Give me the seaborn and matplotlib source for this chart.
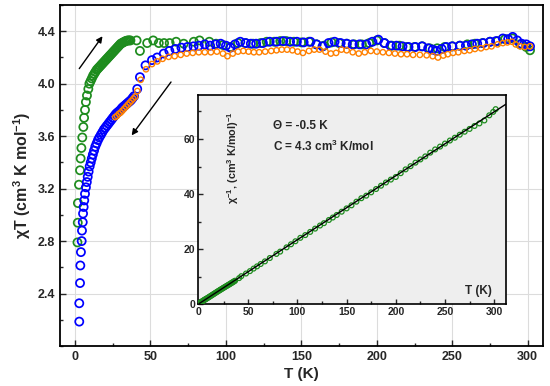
import numpy as np
import matplotlib
matplotlib.use("Agg")
import matplotlib.pyplot as plt
import seaborn as sns
from matplotlib.ticker import MultipleLocator

# --- Data: chi*T (cm3 K/mol) vs T (K) ---
green_T = [1.6, 1.8, 1.9, 2.6, 3.3, 3.7, 4.2, 4.8, 5.5, 6.0, 6.6, 7.2, 7.9, 8.8,
           9.5, 10.3, 11.1, 11.9, 12.7, 13.5, 14.3, 15.1, 15.9, 16.7, 17.5, 18.3,
           19.1, 19.9, 20.7, 21.5, 22.3, 23.1, 23.9, 24.7, 25.5, 26.3, 27.1, 27.9,
           28.7, 29.5, 30.3, 31.1, 31.9, 32.7, 33.5, 34.3, 35.1, 35.9, 36.7, 40.8,
           43, 47.8, 51.8, 55.5, 59, 62.7, 67, 72, 78.7, 82.5, 89, 93.5,
           98, 103, 108, 113, 118, 123, 127, 132, 136, 140, 145, 150, 155, 160,
           165, 170, 175, 180, 185, 190, 195, 200, 205, 210, 215, 220, 225, 230,
           235, 240, 245, 250, 255, 260, 265, 270, 275, 280, 285, 290, 295, 299, 301.5]
green_chiT = [2.79, 2.94, 3.09, 3.23, 3.34, 3.43, 3.51, 3.59, 3.67, 3.74, 3.80, 3.86, 3.91, 3.96,
              4.00, 4.02, 4.04, 4.06, 4.075, 4.09, 4.105, 4.115, 4.125, 4.135, 4.145, 4.155,
              4.165, 4.175, 4.185, 4.195, 4.205, 4.215, 4.225, 4.235, 4.245, 4.255, 4.265, 4.275,
              4.285, 4.295, 4.305, 4.31, 4.315, 4.32, 4.325, 4.328, 4.33, 4.33, 4.33, 4.33,
              4.25, 4.31, 4.33, 4.31, 4.31, 4.31, 4.32, 4.305, 4.32, 4.33, 4.32, 4.305,
              4.295, 4.28, 4.31, 4.31, 4.305, 4.31, 4.32, 4.32, 4.325, 4.325, 4.32, 4.315, 4.32, 4.30,
              4.29, 4.315, 4.31, 4.305, 4.30, 4.30, 4.31, 4.33, 4.31, 4.29, 4.29, 4.28, 4.28, 4.285,
              4.27, 4.27, 4.28, 4.285, 4.29, 4.30, 4.305, 4.31, 4.32, 4.325, 4.34, 4.345, 4.30, 4.28, 4.255]

blue_T = [2.8, 2.8, 3.3, 3.5, 3.9, 4.4, 4.6, 5.1, 5.3, 5.7, 6.1, 6.6, 7.2, 7.8, 8.4, 9.0,
          9.7, 10.4, 11.1, 11.8, 12.6, 13.4, 14.3, 15.2, 16.1, 17.1, 18.1, 19.1, 20.1,
          21.1, 22.1, 23.1, 24.1, 25.1, 26.1, 27.1, 28.1, 29.1, 30.1, 31.1, 32.1, 33.1,
          34.1, 35.1, 36.1, 37.1, 38.1, 39.1, 41.2, 43, 46.7, 51, 54.4, 58.8, 62.5, 66.5,
          70.5, 74.5, 78.5, 82, 86, 89.5, 93, 96.5, 100, 103, 106, 109.5, 113, 116.5, 120,
          124.5, 129, 133.5, 138, 142.5, 147, 151.5, 156, 160, 164, 168, 172, 176, 180,
          184, 188.5, 193, 197, 201, 205, 209, 213, 217, 221, 225.5, 230, 234, 237, 239.5,
          243, 246, 250, 255, 259, 263, 266.5, 270.5, 275, 279, 283.5, 287, 290, 293, 296,
          299, 301.5]
blue_chiT = [2.186, 2.326, 2.48, 2.614, 2.716, 2.80, 2.88, 2.944, 3.01, 3.06, 3.11, 3.16, 3.21,
             3.25, 3.29, 3.33, 3.37, 3.40, 3.43, 3.46, 3.49, 3.52, 3.545, 3.57, 3.59, 3.61,
             3.63, 3.65, 3.665, 3.68, 3.695, 3.71, 3.725, 3.74, 3.755, 3.77, 3.78, 3.79, 3.80,
             3.815, 3.825, 3.835, 3.845, 3.855, 3.865, 3.875, 3.89, 3.905, 3.96, 4.05, 4.14,
             4.18, 4.20, 4.23, 4.25, 4.265, 4.275, 4.28, 4.285, 4.29, 4.30, 4.29, 4.30, 4.305,
             4.29, 4.275, 4.30, 4.32, 4.31, 4.305, 4.305, 4.31, 4.32, 4.32, 4.325, 4.32, 4.32,
             4.315, 4.32, 4.30, 4.285, 4.31, 4.32, 4.31, 4.305, 4.30, 4.30, 4.30, 4.32, 4.336,
             4.31, 4.29, 4.29, 4.285, 4.28, 4.28, 4.285, 4.27, 4.26, 4.25, 4.265, 4.28, 4.285,
             4.29, 4.29, 4.30, 4.305, 4.31, 4.32, 4.325, 4.345, 4.34, 4.357, 4.33, 4.305,
             4.30, 4.285]

orange_T = [26.6, 27.8, 29, 30.2, 31.4, 32.6, 33.8, 35, 36.2, 37.4, 38.6, 39.8, 41.3, 43.5,
            47, 51, 54.5, 58, 62, 66, 70, 74, 78, 82, 86, 90, 94, 98, 101, 104.5, 108, 111.5,
            115, 118.5, 122, 126, 130, 133.5, 137, 140.5, 144, 147.5, 151, 155, 158.5, 162,
            166, 169.5, 173, 176.5, 180, 184, 188, 192, 196, 200, 204, 208, 212, 216, 220,
            224, 228.5, 233, 237, 240.5, 244, 247, 250.5, 254, 258, 261.5, 265, 269, 272.5,
            276, 280, 283.5, 286.5, 289.5, 292, 295, 298, 301.5]
orange_chiT = [3.745, 3.755, 3.77, 3.78, 3.795, 3.81, 3.825, 3.84, 3.855, 3.87, 3.885, 3.90,
               3.944, 4.03, 4.11, 4.15, 4.17, 4.19, 4.205, 4.21, 4.22, 4.23, 4.235, 4.24, 4.24,
               4.24, 4.245, 4.23, 4.21, 4.23, 4.245, 4.25, 4.245, 4.24, 4.24, 4.245, 4.25,
               4.255, 4.26, 4.26, 4.255, 4.245, 4.235, 4.25, 4.26, 4.26, 4.245, 4.23, 4.235,
               4.26, 4.255, 4.24, 4.23, 4.24, 4.25, 4.245, 4.24, 4.235, 4.23, 4.225, 4.225,
               4.22, 4.22, 4.217, 4.21, 4.20, 4.215, 4.225, 4.235, 4.24, 4.25, 4.255, 4.265,
               4.27, 4.28, 4.285, 4.30, 4.31, 4.315, 4.32, 4.30, 4.285, 4.28, 4.285]

# Curie-Weiss fit parameters shown in the inset
theta = -0.5
curie_C = 4.3

GREEN = "#1e8c1e"
BLUE = "#0000ff"
ORANGE = "#ff8000"

sns.set_style("ticks")
plt.rcParams["font.family"] = ["Liberation Sans", "DejaVu Sans"]
plt.rcParams["font.weight"] = "bold"
plt.rcParams["mathtext.fontset"] = "custom"
plt.rcParams["mathtext.rm"] = "Liberation Sans:bold"
plt.rcParams["mathtext.it"] = "Liberation Sans:bold"
plt.rcParams["mathtext.bf"] = "Liberation Sans:bold"

fig = plt.figure(figsize=(5.5, 3.86), dpi=100)
ax = fig.add_axes([0.109, 0.1036, 0.878, 0.8834])

# --- Main panel ---
sns.scatterplot(x=green_T, y=green_chiT, ax=ax, marker="o", s=34, facecolor="none",
                edgecolor=GREEN, linewidth=1.25, zorder=3)
sns.scatterplot(x=blue_T, y=blue_chiT, ax=ax, marker="o", s=34, facecolor="none",
                edgecolor=BLUE, linewidth=1.25, zorder=4)
sns.scatterplot(x=orange_T, y=orange_chiT, ax=ax, marker="o", s=15, facecolor="none",
                edgecolor=ORANGE, linewidth=1.0, zorder=5)

ax.set_xlim(-10, 310)
ax.set_ylim(2.0, 4.6)
ax.xaxis.set_major_locator(MultipleLocator(50))
ax.xaxis.set_minor_locator(MultipleLocator(25))
ax.set_yticks([2.4, 2.8, 3.2, 3.6, 4.0, 4.4])
ax.yaxis.set_minor_locator(MultipleLocator(0.2))
ax.yaxis.set_major_formatter(matplotlib.ticker.FormatStrFormatter("%.1f"))
ax.tick_params(which="both", direction="in", width=1.0, labelsize=9)
ax.tick_params(which="major", length=4)
ax.tick_params(which="minor", length=2.5)
ax.grid(True, which="major", color="#dcdcdc", linewidth=0.8)
ax.set_axisbelow(True)
for sp in ax.spines.values():
    sp.set_linewidth(1.3)
    sp.set_color("black")

ax.set_xlabel("T (K)", fontsize=11, fontweight="bold", labelpad=3)
ax.set_ylabel(r"χT (cm$^{3}$ K mol$^{-1}$)", fontsize=11.5, fontweight="bold", labelpad=3)

# arrows: heating (up) and cooling (down)
arrow_kw = dict(arrowstyle="-|>", color="black", lw=1.0, mutation_scale=9,
                shrinkA=0, shrinkB=0)
ax.annotate("", xy=(18.2, 4.362), xytext=(2.8, 4.115), arrowprops=arrow_kw, zorder=6)
ax.annotate("", xy=(37.5, 3.606), xytext=(63.6, 4.013), arrowprops=arrow_kw, zorder=6)

# --- Inset: inverse susceptibility ---
ins = fig.add_axes([0.36, 0.2124, 0.56, 0.5415])
ins.set_facecolor("#eeeeee")
inv_chi = np.array(green_T) / np.array(green_chiT)
sns.scatterplot(x=green_T, y=inv_chi, ax=ins, marker="o", s=12, facecolor="none",
                edgecolor=GREEN, linewidth=0.9, zorder=3)
fit_T = np.array([0.0, 312.0])
ins.plot(fit_T, (fit_T - theta) / curie_C, color="black", lw=1.0, zorder=4)

ins.set_xlim(-1, 312)
ins.set_ylim(0, 76)
ins.xaxis.set_major_locator(MultipleLocator(50))
ins.xaxis.set_minor_locator(MultipleLocator(25))
ins.yaxis.set_major_locator(MultipleLocator(20))
ins.yaxis.set_minor_locator(MultipleLocator(10))
ins.tick_params(which="both", direction="in", width=1.0, labelsize=7.5, pad=2)
ins.tick_params(which="major", length=3.5)
ins.tick_params(which="minor", length=2)
for sp in ins.spines.values():
    sp.set_linewidth(1.2)
    sp.set_color("black")

ins.text(0.114, 0.70, r"χ$^{-1}$, (cm$^{3}$ K/mol)$^{-1}$", transform=ins.transAxes,
         rotation=90, ha="center", va="center", fontsize=7.8, fontweight="bold")
ins.text(0.243, 0.85, "Θ = -0.5 K", transform=ins.transAxes, ha="left", va="center",
         fontsize=8.5, fontweight="bold")
ins.text(0.243, 0.756, r"C = 4.3 cm$^{3}$ K/mol", transform=ins.transAxes, ha="left",
         va="center", fontsize=8.5, fontweight="bold")
ins.text(0.912, 0.062, "T (K)", transform=ins.transAxes, ha="center", va="center",
         fontsize=8.5, fontweight="bold")

fig.savefig("out.png", dpi=100)
